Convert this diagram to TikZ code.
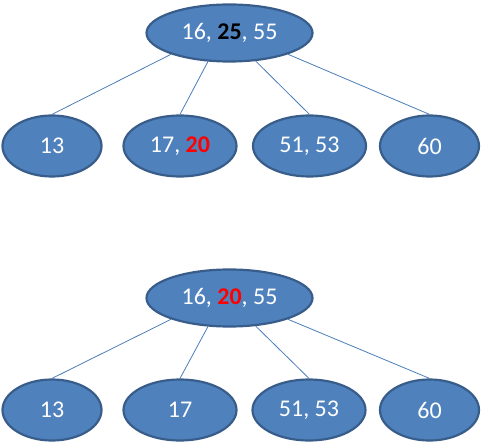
\documentclass[tikz,border=0pt]{standalone}
\usepackage{fontspec}
\setmainfont{Carlito}
\usetikzlibrary{shapes.geometric}
\definecolor{nodefill}{HTML}{4F81BD}
\definecolor{nodeedge}{HTML}{385D8A}
\definecolor{linkcol}{HTML}{4A7EBB}
\begin{document}
\begin{tikzpicture}[x=1pt,y=-1pt,
  bnode/.style={ellipse, fill=nodefill, draw=nodeedge, line width=2.2pt, inner sep=0pt,
    text=white, font=\fontsize{24}{28}\selectfont},
  rootnode/.style={bnode, minimum width=166pt, minimum height=57pt},
  leafnarrow/.style={bnode, minimum width=99pt, minimum height=61pt},
  leafwide/.style={bnode, minimum width=113pt, minimum height=61pt},
  link/.style={draw=linkcol, line width=0.8pt}]
\useasboundingbox (0,0) rectangle (481,443);
% top tree
\node[rootnode] (r1) at (229.5,33) {16, \textcolor{black}{\textbf{25}}, 55};
\node[leafnarrow] (a1) at (52,146) {13};
\node[leafwide] (b1) at (180,146) {17, \textcolor{red}{\textbf{20}}};
\node[leafwide] (c1) at (309.5,146) {51, 53};
\node[leafnarrow] (d1) at (429.5,146) {60};
\draw[link] (r1.200) -- (a1.north);
\draw[link] (r1.233) -- (b1.north);
\draw[link] (r1.313) -- (c1.north);
\draw[link] (r1.340) -- (d1.north);
% bottom tree
\node[rootnode] (r2) at (229.5,298) {16, \textcolor{red}{\textbf{20}}, 55};
\node[leafnarrow] (a2) at (52,410) {13};
\node[leafwide] (b2) at (180,410) {17};
\node[leafwide] (c2) at (309,410) {51, 53};
\node[leafnarrow] (d2) at (429.5,410) {60};
\draw[link] (r2.200) -- (a2.north);
\draw[link] (r2.233) -- (b2.north);
\draw[link] (r2.313) -- (c2.north);
\draw[link] (r2.340) -- (d2.north);
\end{tikzpicture}
\end{document}
